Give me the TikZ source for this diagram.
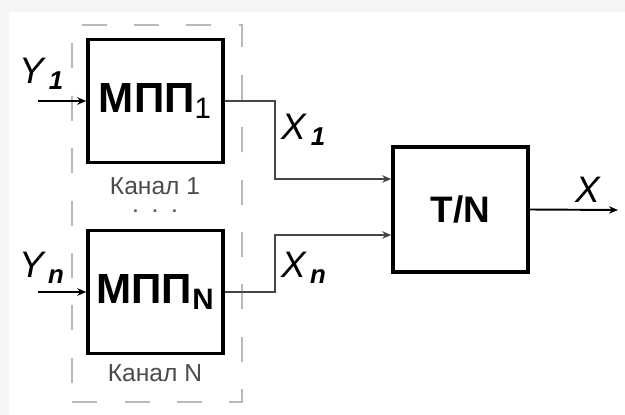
\documentclass[tikz,border=0pt]{standalone}
\usepackage{fontspec}
\setmainfont{Liberation Sans}
\usepackage{tikz}
\usetikzlibrary{arrows.meta,positioning,calc}
\tikzset{
  blk/.style   ={draw,line width=2pt,minimum width=2.7cm,minimum height=2.46cm,inner sep=0pt,
                 font=\fontsize{24}{24}\selectfont\bfseries},
  grp/.style   ={draw=gray!55,line width=1.3pt,dash pattern=on 0.5cm off 0.55cm,
                 minimum width=3.4cm,minimum height=7.54cm,inner sep=0pt},
  sig/.style   ={-{Stealth[length=1.8mm,width=1.5mm]},line width=1.1pt},
  bus/.style   ={-{Stealth[length=1.8mm,width=1.5mm]},line width=1.6pt,draw=gray!55!black},
  chancap/.style ={font=\fontsize{14}{14}\selectfont,text=gray!60!black},
  lbl/.style   ={font=\fontsize{21}{21}\selectfont\itshape,inner sep=0pt},
}
\newcommand{\subx}[1]{\textsubscript{\,\bfseries #1}}
\begin{document}
\begin{tikzpicture}[x=0.02cm,y=-0.02cm]
  \useasboundingbox (0,0) rectangle (625,415);
  \fill[gray!8] (0,0) rectangle (625,415);
  \fill[white] (9,12) rectangle (625,415);

  \node[grp] (chan) at (157,213.5) {};
  \node[blk] (mpp1) at (155.5,101) {МПП\textsubscript{\mdseries 1}};
  \node[blk] (mppn) at (155.5,292) {МПП\textsubscript{N}};
  \node[blk,minimum height=2.5cm,font=\fontsize{21}{21}\selectfont\bfseries] (tn) at (460.5,209.5) {T/N};

  \node[chancap] (can1) at (155,186) {Канал 1};
  \node[chancap] (cann) at (155,373) {Канал N};
  \node[font=\bfseries,text=gray!70!black] (dots) at (155,211) {.\ \ \ .\ \ \ .};

  \coordinate (in1) at (38,101);
  \coordinate (inn) at (38,292);
  \coordinate (j1) at (275,179);
  \coordinate (jn) at (275,235);
  \coordinate (out) at (618,210);

  \draw[sig] (in1) -- (mpp1.west);
  \draw[sig] (inn) -- (mppn.west);
  \draw[bus] (mpp1.east) -| (j1) -- (tn.west |- j1);
  \draw[bus] (mppn.east) -| (jn) -- (tn.west |- jn);
  \draw[sig] (tn.east) -- (out);

  \node[lbl] (y1) at (42,74) {Y\subx{1}};
  \node[lbl] (yn) at (42,268) {Y\subx{n}};
  \node[lbl] (x1) at (304,130) {X\subx{1}};
  \node[lbl] (xn) at (304,268) {X\subx{n}};
  \node[lbl] (x) at (588,190) {X};
\end{tikzpicture}
\end{document}
